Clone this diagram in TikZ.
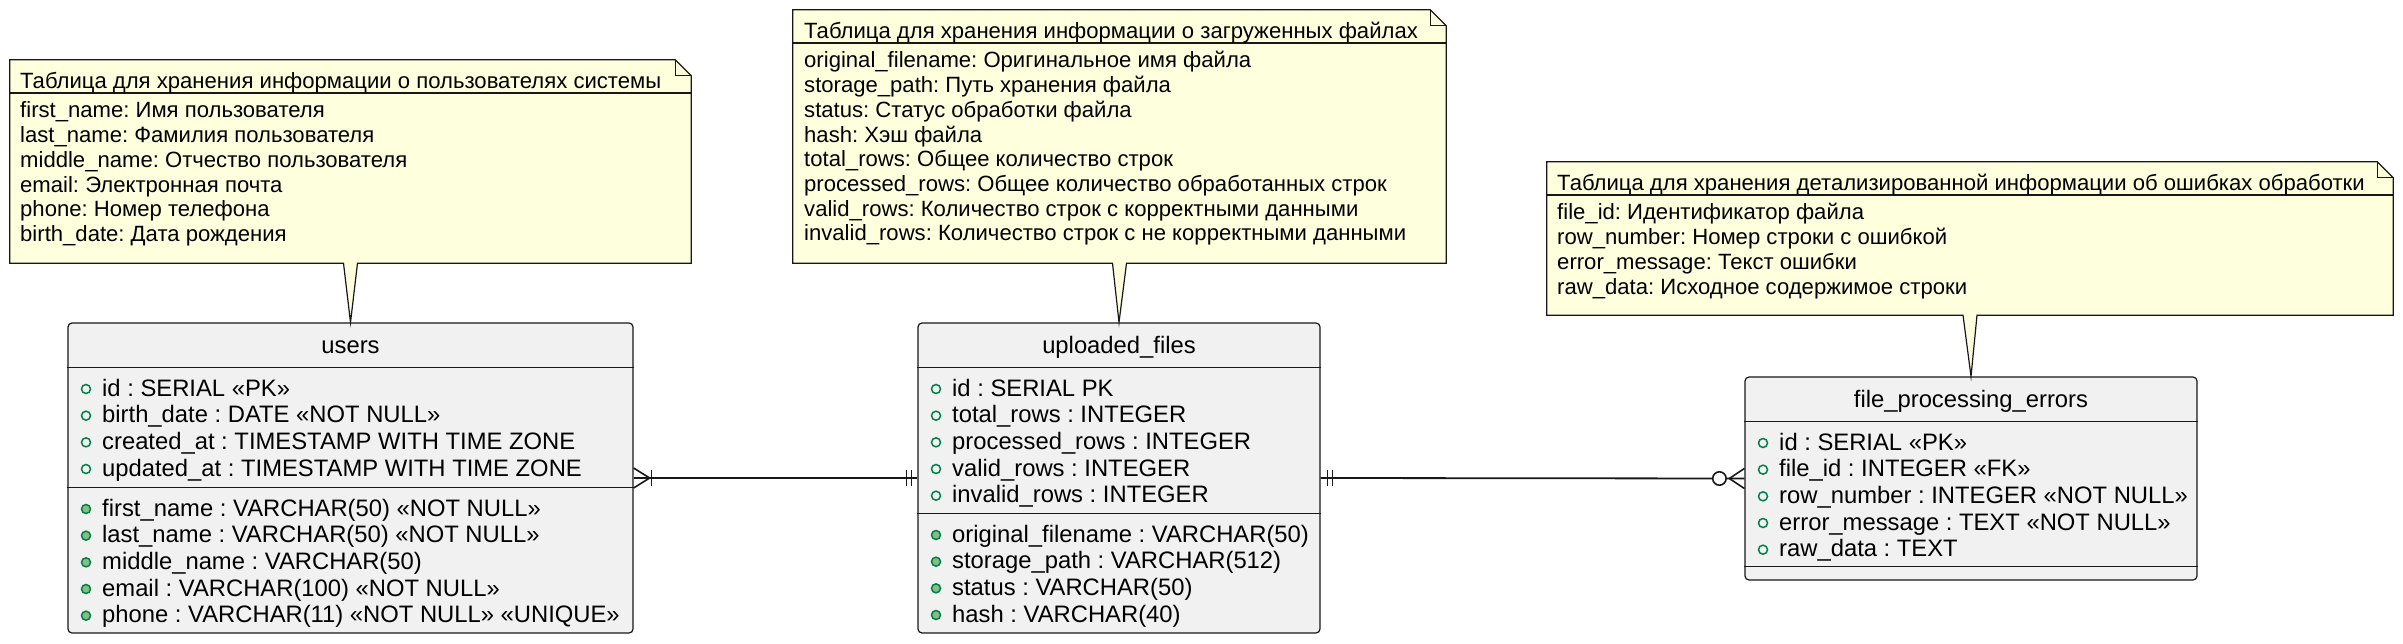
\documentclass[tikz,border=0pt]{standalone}
\usepackage{fontspec}
\setmainfont{Liberation Sans}
\frenchspacing
\definecolor{tablefill}{HTML}{F1F1F1}
\definecolor{edge}{HTML}{181818}
\definecolor{notefill}{HTML}{FEFFDD}
\definecolor{fieldgreen}{HTML}{038048}
\definecolor{fieldfill}{HTML}{84BE84}
\tikzset{
  entity/.style={rectangle, draw=edge, fill=tablefill, line width=1.2pt, rounded corners=4pt, inner sep=0pt},
  notebox/.style={rectangle, inner sep=0pt},
  noteshape/.style={draw=edge, fill=notefill, line width=1.2pt, line join=miter},
  foldline/.style={draw=edge, line width=1.2pt},
  sepline/.style={draw=edge, line width=1pt},
  notesep/.style={draw=edge, line width=1.8pt},
  ttext/.style={font=\fontsize{23.8}{26.7}\selectfont, inner sep=0pt, anchor=base west},
  ttitle/.style={font=\fontsize{23.8}{26.7}\selectfont, inner sep=0pt, anchor=base},
  ntext/.style={font=\fontsize{22.1}{24.7}\selectfont, inner sep=0pt, anchor=base west},
  keyfield/.style={circle, draw=fieldgreen, line width=1.5pt, minimum size=9pt, inner sep=0pt},
  plainfield/.style={keyfield, fill=fieldfill},
  link/.style={draw=edge, line width=1.8pt},
  linkend/.style={draw=edge, line width=1.6pt},
}
\begin{document}
\begin{tikzpicture}[x=1pt, y=-1pt]
\fill[white] (0,0) rectangle (2403,644);
\useasboundingbox (0,0) rectangle (2403,644);

% ---------- tables ----------
\node[entity, minimum width=565pt, minimum height=310pt] (users) at (350.5,478) {};
\node[entity, minimum width=402pt, minimum height=310pt] (files) at (1119,478) {};
\node[entity, minimum width=452pt, minimum height=203pt] (errors) at (1971,478.5) {};

% separators
\draw[sepline] (users.west |- 0,367) -- (users.east |- 0,367);
\draw[sepline] (users.west |- 0,487) -- (users.east |- 0,487);
\draw[sepline] (files.west |- 0,367) -- (files.east |- 0,367);
\draw[sepline] (files.west |- 0,513) -- (files.east |- 0,513);
\draw[sepline] (errors.west |- 0,421) -- (errors.east |- 0,421);
\draw[sepline] (errors.west |- 0,566.7) -- (errors.east |- 0,566.7);

% titles
\node[ttitle] (users-title) at (users.north |- 0,353) {users};
\node[ttitle] (files-title) at (files.north |- 0,353) {uploaded\_files};
\node[ttitle] (errors-title) at (errors.north |- 0,407) {file\_processing\_errors};

% users fields
\foreach \txt [count=\i from 0] in {id : SERIAL «PK», birth\_date : DATE «NOT NULL», created\_at : TIMESTAMP WITH TIME ZONE, updated\_at : TIMESTAMP WITH TIME ZONE} {
  \node[keyfield] (users-k\i) at (86, {389+26.67*\i}) {};
  \node[ttext] (users-a\i) at (102, {396+26.67*\i}) {\txt};
}
\foreach \txt [count=\i from 0] in {first\_name : VARCHAR(50) «NOT NULL», last\_name : VARCHAR(50) «NOT NULL», middle\_name : VARCHAR(50), email : VARCHAR(100) «NOT NULL», phone : VARCHAR(11) «NOT NULL» «UNIQUE»} {
  \node[plainfield] (users-p\i) at (86, {509+26.67*\i}) {};
  \node[ttext] (users-b\i) at (102, {516+26.67*\i}) {\txt};
}

% uploaded_files fields
\foreach \txt [count=\i from 0] in {id : SERIAL PK, total\_rows : INTEGER, processed\_rows : INTEGER, valid\_rows : INTEGER, invalid\_rows : INTEGER} {
  \node[keyfield] (files-k\i) at (936, {389+26.67*\i}) {};
  \node[ttext] (files-a\i) at (952, {396+26.67*\i}) {\txt};
}
\foreach \txt [count=\i from 0] in {original\_filename : VARCHAR(50), storage\_path : VARCHAR(512), status : VARCHAR(50), hash : VARCHAR(40)} {
  \node[plainfield] (files-p\i) at (936, {535+26.67*\i}) {};
  \node[ttext] (files-b\i) at (952, {542+26.67*\i}) {\txt};
}

% file_processing_errors fields
\foreach \txt [count=\i from 0] in {id : SERIAL «PK», file\_id : INTEGER «FK», row\_number : INTEGER «NOT NULL», error\_message : TEXT «NOT NULL», raw\_data : TEXT} {
  \node[keyfield] (errors-k\i) at (1763, {443+26.67*\i}) {};
  \node[ttext] (errors-a\i) at (1779, {450+26.67*\i}) {\txt};
}

% ---------- relations ----------
\draw[link] (users.east) -- (files.west);
\draw[linkend] ([yshift=10pt]users.east) -- ([xshift=16pt]users.east) -- ([yshift=-10pt]users.east);
\draw[linkend] ([xshift=18pt,yshift=8pt]users.east) -- ([xshift=18pt,yshift=-8pt]users.east);
\draw[linkend] ([xshift=-11pt,yshift=8pt]files.west) -- ([xshift=-11pt,yshift=-8pt]files.west);
\draw[linkend] ([xshift=-6pt,yshift=8pt]files.west) -- ([xshift=-6pt,yshift=-8pt]files.west);

\draw[link] (files.east) -- (errors.west);
\draw[linkend] ([xshift=7pt,yshift=8pt]files.east) -- ([xshift=7pt,yshift=-8pt]files.east);
\draw[linkend] ([xshift=12pt,yshift=8pt]files.east) -- ([xshift=12pt,yshift=-8pt]files.east);
\draw[linkend] ([yshift=10pt]errors.west) -- ([xshift=-15pt]errors.west) -- ([yshift=-10pt]errors.west);
\draw[linkend, fill=white] ([xshift=-25pt]errors.west) circle[radius=6.7pt];

% ---------- notes ----------
\node[notebox, minimum width=681pt, minimum height=203pt] (unote) at (350.5,161.5) {};
\node[notebox, minimum width=653pt, minimum height=253pt] (fnote) at (1119.5,136.5) {};
\node[notebox, minimum width=846pt, minimum height=153pt] (enote) at (1970,238.5) {};

\foreach \n/\t in {unote/users, fnote/files, enote/errors} {
  \path[noteshape] (\n.north west) -- ([xshift=-16pt]\n.north east) -- ([yshift=-16pt]\n.north east)
     -- (\n.south east) -- ([xshift=7pt]\n.south) -- (\t.north) -- ([xshift=-7pt]\n.south)
     -- (\n.south west) -- cycle;
  \draw[foldline] ([xshift=-16pt]\n.north east) |- ([yshift=-16pt]\n.north east);
  \draw[notesep] ([yshift=-33pt]\n.north west) -- ([yshift=-33pt]\n.north east);
}

% users note text
\node[ntext] (unote-title) at (20, 88.5) {Таблица для хранения информации о пользователях системы};
\foreach \txt [count=\i from 0] in {first\_name: Имя пользователя, last\_name: Фамилия пользователя, middle\_name: Отчество пользователя, email: Электронная почта, phone: Номер телефона, birth\_date: Дата рождения} {
  \node[ntext] (unote-l\i) at (20, {118+24.7*\i}) {\txt};
}

% uploaded note text
\node[ntext] (fnote-title) at (804, 38.5) {Таблица для хранения информации о загруженных файлах};
\foreach \txt [count=\i from 0] in {original\_filename: Оригинальное имя файла, storage\_path: Путь хранения файла, status: Статус обработки файла, hash: Хэш файла, total\_rows: Общее количество строк, processed\_rows: Общее количество обработанных строк, valid\_rows: Количество строк с корректными данными, invalid\_rows: Количество строк с не корректными данными} {
  \node[ntext] (fnote-l\i) at (804, {68+24.7*\i}) {\txt};
}

% errors note text
\node[ntext] (enote-title) at (1557, 190.5) {Таблица для хранения детализированной информации об ошибках обработки};
\foreach \txt [count=\i from 0] in {file\_id: Идентификатор файла, row\_number: Номер строки с ошибкой, error\_message: Текст ошибки, raw\_data: Исходное содержимое строки} {
  \node[ntext] (enote-l\i) at (1557, {220+24.7*\i}) {\txt};
}
\end{tikzpicture}
\end{document}
